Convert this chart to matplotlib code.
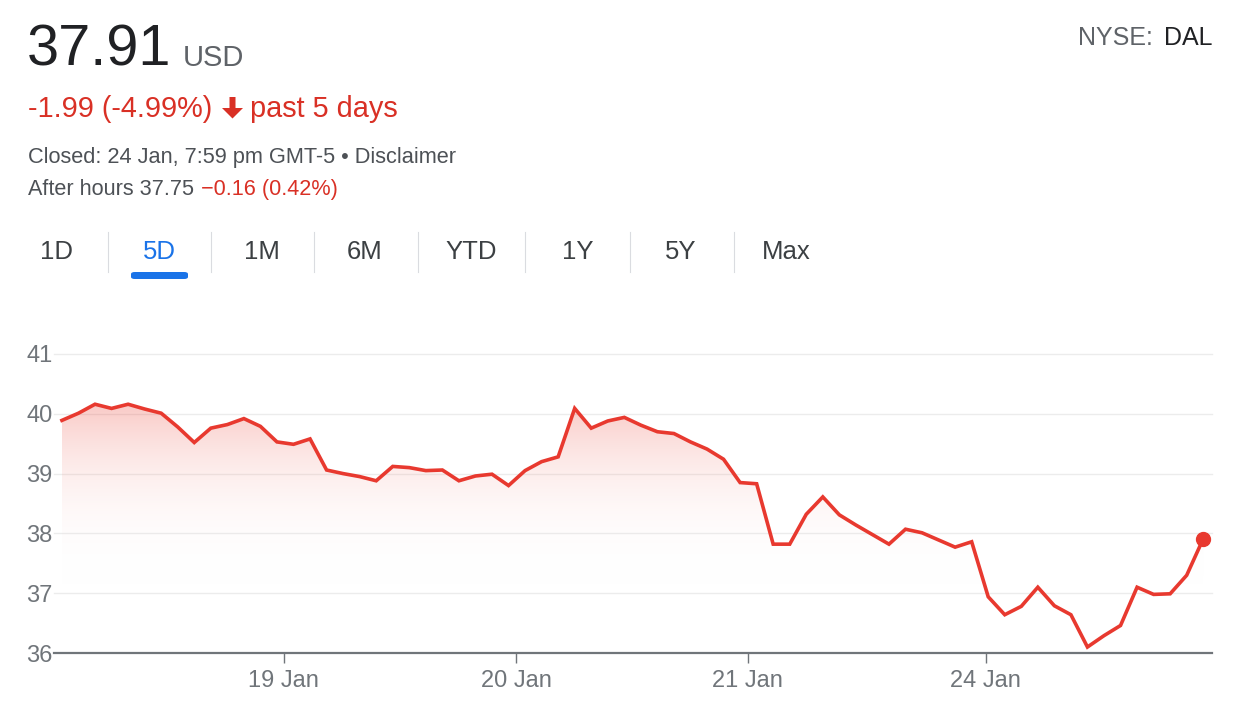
import matplotlib
matplotlib.use("Agg")
import matplotlib.pyplot as plt
import numpy as np
from matplotlib.colors import LinearSegmentedColormap

plt.rcParams['font.family'] = ['Liberation Sans', 'DejaVu Sans']

# precio DAL cada 30 min, 5 dias
precios = [39.89, 40.01, 40.16, 40.09, 40.16, 40.08, 40.01, 39.78, 39.52, 39.76,
           39.82, 39.92, 39.79, 39.53, 39.49, 39.58, 39.06, 39.00, 38.95, 38.88,
           39.12, 39.10, 39.05, 39.06, 38.88, 38.96, 38.99, 38.80, 39.05, 39.20,
           39.28, 40.09, 39.76, 39.88, 39.94, 39.81, 39.70, 39.67, 39.53, 39.41,
           39.24, 38.85, 38.83, 37.82, 37.82, 38.32, 38.61, 38.31, 38.14, 37.98,
           37.82, 38.07, 38.01, 37.89, 37.77, 37.86, 36.94, 36.64, 36.78, 37.10,
           36.79, 36.64, 36.10, 36.29, 36.46, 37.10, 36.98, 36.99, 37.30, 37.91]
dias = ["19 Jan", "20 Jan", "21 Jan", "24 Jan"]
pos_dias = [13.4, 27.45, 41.45, 55.85]
niveles = [36, 37, 38, 39, 40, 41]
periodos = ["1D", "5D", "1M", "6M", "YTD", "1Y", "5Y", "Max"]

ROJO = "#e8392f"
ROJO_TXT = "#d93025"
GRIS = "#70757a"

W, H = 1238, 713
fig = plt.figure(figsize=(W / 100, H / 100), dpi=100)

def px(x, y):
    return x / W, 1 - y / H

# cabecera
fig.text(*px(27, 66), "37.91", fontsize=41.5, color="#202124", va="baseline")
fig.text(*px(183, 66), "USD", fontsize=21, color="#5f6368", va="baseline")
fig.text(*px(1212, 45), "DAL", fontsize=18, color="#202124", va="baseline", ha="right")
fig.text(*px(1153, 45), "NYSE:", fontsize=18, color="#5f6368", va="baseline", ha="right")

fig.text(*px(28, 117), "-1.99 (-4.99%)", fontsize=20.8, color=ROJO_TXT, va="baseline")
# flecha rellena
flecha = np.array([[229.5, 97], [235.5, 97], [235.5, 108], [243, 108], [232.5, 118.5],
                   [222, 108], [229.5, 108]])
fig.add_artist(matplotlib.patches.Polygon(
    [px(a, b) for a, b in flecha], closed=True, color=ROJO_TXT, lw=0))
fig.text(*px(250, 117), "past 5 days", fontsize=20.8, color=ROJO_TXT, va="baseline")

fig.text(*px(28, 163), "Closed: 24 Jan, 7:59 pm GMT-5 \u2022 Disclaimer", fontsize=15.7,
         color="#4d5156", va="baseline")
fig.text(*px(28, 195), "After hours 37.75", fontsize=15.6, color="#4d5156", va="baseline")
fig.text(*px(201, 195), "\u22120.16 (0.42%)", fontsize=15.6, color=ROJO_TXT, va="baseline")

# pestañas
centros = [57, 159, 262, 365, 471, 578, 681, 786]
for i, (p, cx) in enumerate(zip(periodos, centros)):
    color = "#1a73e8" if p == "5D" else "#3c4043"
    fig.text(*px(cx, 259), p, fontsize=18.5, color=color, va="baseline", ha="center")
    if i < len(periodos) - 1:
        sx = (cx + centros[i + 1]) / 2
        fig.add_artist(plt.Line2D([sx / W, sx / W], [1 - 232 / H, 1 - 272 / H],
                                  color="#dadce0", lw=0.8))
fig.add_artist(matplotlib.patches.FancyBboxPatch(
    (131 / W, 1 - 279 / H), 57 / W, 7 / H, boxstyle="round,pad=0,rounding_size=0.003",
    color="#1a73e8", lw=0))

# grafico
ax = fig.add_axes([54 / W, 1 - 653 / H, (1212 - 54) / W, (653 - 354) / H])
x = np.arange(len(precios))
y = np.array(precios)
ax.set_xlim(-0.48, 69.53)
ax.set_ylim(36, 41)

for n in niveles[1:]:
    ax.axhline(n, color="#ececec", lw=1, zorder=0, clip_on=False)

poly = ax.fill_between(x, y, 36, color="none", lw=0)
cmap = LinearSegmentedColormap.from_list("deg", [(1, 1, 1, 0), (0.92, 0.26, 0.21, 0.29)])
grad = np.linspace(0, 1, 256).reshape(-1, 1)
grad = np.clip((grad - 0.25) / 0.75, 0, 1) ** 1.2
img = ax.imshow(grad, cmap=cmap, aspect="auto", extent=[0, 69, 36, 40.2],
                origin="lower", zorder=1)
img.set_clip_path(poly.get_paths()[0], transform=ax.transData)

ax.plot(x, y, color=ROJO, lw=2.6, zorder=3, solid_joinstyle="miter")
ax.plot(x[-1], y[-1], "o", color=ROJO, ms=10, zorder=4)

ax.set_yticks(niveles)
ax.set_xticks(pos_dias)
ax.set_xticklabels(dias)
for s in ["top", "right", "left"]:
    ax.spines[s].set_visible(False)
ax.spines["bottom"].set_color(GRIS)
ax.spines["bottom"].set_linewidth(1.6)
ax.tick_params(axis="y", length=0, pad=1, labelsize=17, labelcolor=GRIS)
ax.tick_params(axis="x", length=7, width=1, color=GRIS, pad=5, labelsize=17, labelcolor=GRIS)

fig.savefig("out.png", dpi=100)
